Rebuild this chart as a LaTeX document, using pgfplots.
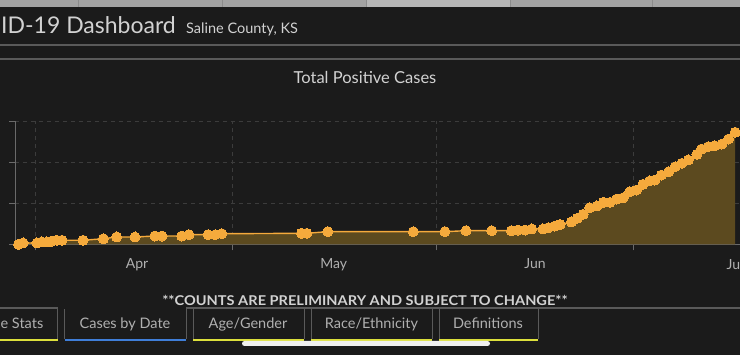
\documentclass[border=0pt]{standalone}
\usepackage{fontspec}
\setmainfont{Lato}
\usepackage{pgfplots}
\usepackage{pgfplotstable}
\pgfplotsset{compat=1.18}
\definecolor{bg}{HTML}{1B1B1B}
\definecolor{orng}{HTML}{F5AA3C}
\definecolor{fillc}{HTML}{5C4A1F}
\definecolor{gridc}{HTML}{3C3C3C}
\definecolor{axc}{HTML}{6A6A6A}
\definecolor{txt}{HTML}{D2D2D2}
\definecolor{txt2}{HTML}{B0B0B0}
\definecolor{strip}{HTML}{A3A3A3}
\definecolor{stripl}{HTML}{B6B6B6}
\definecolor{sep}{HTML}{5A5A5A}
\definecolor{ylw}{HTML}{DDE03C}
\definecolor{blu}{HTML}{3F7ED8}

% day 0 = 1 April, cumulative positive cases
\pgfplotstableread{
day cases
-2.5 0
-1.8 1.6
0.3 1.6
1.0 2.8
1.8 2.8
2.5 3.7
3.3 4.9
4.1 4.9
7.3 4.9
10.4 6.8
12.4 8.9
15.2 8.9
18.2 10.1
19.3 10.1
22.3 10.1
23.4 11.7
26.3 11.7
27.4 11.7
28.4 12.9
40.5 13.4
41.3 13.4
44.5 15.4
57.5 15.4
62.3 15.4
65.5 16.6
69.4 16.6
72.4 16.6
73.4 17.4
74.5 17.4
75.5 18.7
77.2 18.7
78.0 20.2
79.0 22.3
79.8 24.1
81.5 27.2
82.4 31.7
83.3 36.6
84.3 44.6
85.4 46.7
86.4 51.2
87.4 51.2
88.4 55.2
89.4 56.8
90.4 64.1
91.4 66.2
92.4 73.2
93.4 77.2
94.2 78.4
95.2 84.5
96.3 88.5
97.3 94.6
98.3 98.8
99.3 102.8
100.6 109.8
101.3 116.2
102.3 119.0
103.3 120.2
104.4 122.3
105.4 128.4
106.4 136.6
}\casedata

\begin{document}
\begin{tikzpicture}[x=1pt,y=1pt]
\path[use as bounding box] (0,0) rectangle (740,355);
\clip (0,0) rectangle (740,355);
\fill[bg] (0,0) rectangle (740,355);
% top strip
\fill[strip] (0,348) rectangle (740,355);
\fill[stripl] (366,348) rectangle (510,355);
\foreach \xx in {78,222,366,510,652} \draw[color=black!45, line width=0.6pt] (\xx,348) -- (\xx,355);
% header
\node[anchor=base west, inner sep=0, text=txt, font=\fontsize{23}{23}\selectfont] at (1,321) {ID-19 Dashboard};
\node[anchor=base west, inner sep=0, text=txt, font=\fontsize{14.5}{14.5}\selectfont] at (186,321) {Saline County, KS};
\draw[sep, line width=1.3pt] (0,310) -- (740,310);
\draw[sep, line width=1.3pt] (0,296) -- (740,296);
\node[anchor=base, inner sep=0, text=txt, font=\fontsize{16.5}{16.5}\selectfont] at (365,271) {Total Positive Cases};

\begin{axis}[
  at={(15pt,110.7pt)}, anchor=south west, scale only axis,
  width=725pt, height=123pt,
  xmin=-3.04, xmax=107.14, ymin=0, ymax=150,
  axis lines=left, axis line style={axc, line width=0.9pt, -},
  xtick={0,30,61,91}, xticklabels={},
  ytick={0,50,100,150}, yticklabels={},
  tick align=outside, major tick length=6pt,
  tick style={axc, line width=0.9pt},
  grid=major,
  major grid style={gridc, dash pattern=on 4pt off 4pt, line width=0.8pt},
  extra x ticks={15.5,45.4,76,106.4},
  extra x tick labels={Apr,May,Jun,Jul},
  extra x tick style={major tick length=0pt, grid=none,
    tick label style={text=txt2, font=\fontsize{14}{14}\selectfont, yshift=-11pt}},
]
\addplot[fill=fillc, draw=none] table[x=day,y=cases] {\casedata} \closedcycle;
\addplot[orng, line width=1.4pt, mark=*, mark size=5pt,
  mark options={fill=orng, draw=orng, line width=0pt}] table[x=day,y=cases] {\casedata};
\end{axis}

% footer
\draw[sep, line width=1.2pt] (0,47) -- (57.5,47);
\draw[sep, line width=1.2pt] (186,47) -- (740,47);
\node[anchor=base, inner sep=0, text=txt, font=\bfseries\fontsize{13.5}{13.5}\selectfont] at (365,49) {\scalebox{1.08}[1]{**COUNTS ARE PRELIMINARY AND SUBJECT TO CHANGE**}};
\foreach \xx in {57.5,64.6,186,193,304,311,432,439,538} \draw[sep, line width=1pt] (\xx,46) -- (\xx,16);
\draw[ylw, line width=2pt] (0,15) -- (57.5,15);
\draw[blu, line width=2pt] (64.6,15) -- (186,15);
\draw[ylw, line width=2pt] (193,15) -- (304,15);
\draw[ylw, line width=2pt] (311,15) -- (432,15);
\draw[ylw, line width=2pt] (439,15) -- (538,15);
\fill[white!94!black, rounded corners=2.5pt] (242,9) rectangle (490,14);
\node[anchor=base east, inner sep=0, text=txt2, font=\fontsize{14.5}{14.5}\selectfont] at (43.5,26) {e Stats};
\node[anchor=base, inner sep=0, text=txt2, font=\fontsize{14.5}{14.5}\selectfont] at (125,26) {Cases by Date};
\node[anchor=base, inner sep=0, text=txt2, font=\fontsize{14.5}{14.5}\selectfont] at (248,26) {Age/Gender};
\node[anchor=base, inner sep=0, text=txt2, font=\fontsize{14.5}{14.5}\selectfont] at (371.5,26) {Race/Ethnicity};
\node[anchor=base, inner sep=0, text=txt2, font=\fontsize{14.5}{14.5}\selectfont] at (488,26) {Definitions};
\end{tikzpicture}
\end{document}
